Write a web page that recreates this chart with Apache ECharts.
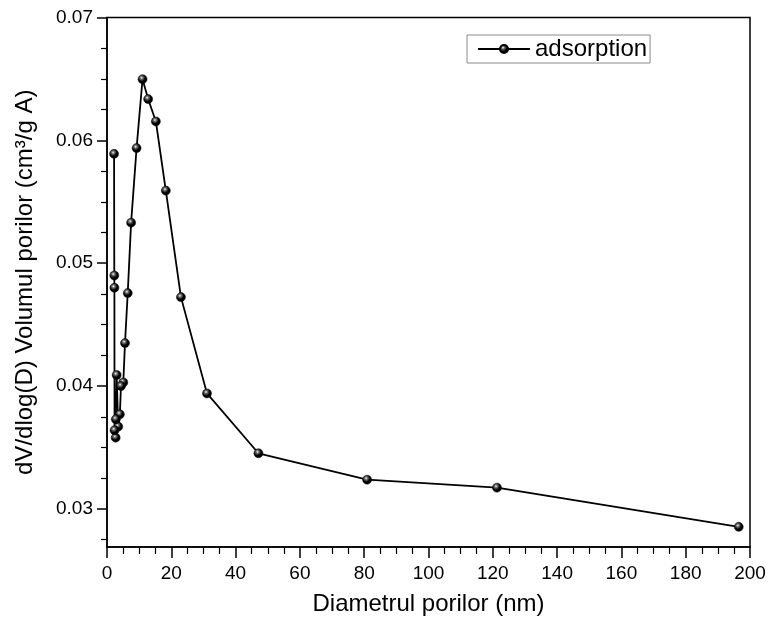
<!DOCTYPE html>
<html><head><meta charset="utf-8">
<script src="https://cdn.jsdelivr.net/npm/echarts@6/dist/echarts.min.js"></script>
<style>html,body{margin:0;padding:0;background:#fff}#c{width:771px;height:621px}</style>
</head><body><div id="c"></div>
<script>
// Data (pore diameter in nm, dV/dlog(D) in cm3/g A), ordered as in the source curve
const diameters = [196.5, 121.3, 80.9, 47.1, 31.1, 23.0, 18.3, 15.2, 12.8, 11.05, 9.2, 7.5, 6.45, 5.6, 5.07, 4.35, 4.0, 3.5, 3.0, 2.75, 2.7, 2.35, 2.3, 2.27, 2.2];
const volumes   = [0.02854, 0.03173, 0.03238, 0.03453, 0.0394, 0.04724, 0.05591, 0.06154, 0.06336, 0.06498, 0.05937, 0.0533, 0.04757, 0.0435, 0.0403, 0.0400, 0.0377, 0.0367, 0.0409, 0.0373, 0.0358, 0.0364, 0.0480, 0.0490, 0.0589];
const seriesName = 'adsorption';
const xTicks = [0, 20, 40, 60, 80, 100, 120, 140, 160, 180, 200];
const yMajorTicks = [0.03, 0.04, 0.05, 0.06, 0.07];
const yMinorTicks = [0.0275, 0.0325, 0.035, 0.0375, 0.0425, 0.045, 0.0475, 0.0525, 0.055, 0.0575, 0.0625, 0.065, 0.0675];
const xTitle = 'Diametrul porilor (nm)';
const yTitle = 'dV/dlog(D) Volumul porilor (cm³/g A)';

const FONT = "'Liberation Sans', Arial, sans-serif";
const chart = echarts.init(document.getElementById('c'), null, {renderer: 'canvas'});
const sphere = {
  type: 'radial', x: 0.4, y: 0.35, r: 0.7,
  colorStops: [{offset: 0, color: '#ffffff'}, {offset: 0.2, color: '#777'}, {offset: 0.55, color: '#000'}, {offset: 1, color: '#000'}]
};
const Y_MIN = 0.0269, Y_MAX = 0.07;
chart.setOption({
  backgroundColor: '#fff',
  animation: false,
  textStyle: {fontFamily: FONT},
  grid: {left: 107, right: 21, top: 17.5, bottom: 72, show: true, borderColor: '#000', borderWidth: 1.5, backgroundColor: 'transparent'},
  legend: {
    data: [seriesName], left: 467, top: 35, orient: 'horizontal',
    itemWidth: 52, itemHeight: 10, itemGap: 6,
    borderColor: '#8a8a8a', borderWidth: 1, padding: [2, 3, 2, 10],
    textStyle: {fontSize: 24, color: '#000', fontFamily: FONT}
  },
  xAxis: {
    type: 'value', min: 0, max: 200, interval: 20,
    name: xTitle, nameLocation: 'middle', nameGap: 45,
    nameTextStyle: {fontSize: 24, color: '#000', fontFamily: FONT},
    axisLine: {show: true, lineStyle: {color: '#000', width: 1.5}},
    axisTick: {show: true, inside: false, length: 11, lineStyle: {color: '#000', width: 1.5}},
    minorTick: {show: true, splitNumber: 4, length: 7, lineStyle: {color: '#000', width: 1.2}},
    axisLabel: {fontSize: 19, color: '#000', margin: 17, fontFamily: FONT, customValues: xTicks},
    splitLine: {show: false}
  },
  yAxis: [{
    type: 'value', min: Y_MIN, max: Y_MAX,
    name: yTitle, nameLocation: 'middle', nameGap: 70, nameRotate: 90,
    nameTextStyle: {fontSize: 24, color: '#000', fontFamily: FONT},
    axisLine: {show: true, lineStyle: {color: '#000', width: 1.5}},
    axisTick: {show: true, inside: false, length: 10, customValues: yMajorTicks, lineStyle: {color: '#000', width: 1.5}},
    axisLabel: {fontSize: 19, color: '#000', margin: 14, fontFamily: FONT, customValues: yMajorTicks, formatter: v => v.toFixed(2)},
    splitLine: {show: false}
  }, {
    type: 'value', min: Y_MIN, max: Y_MAX, position: 'left',
    axisLine: {show: false},
    axisTick: {show: true, inside: false, length: 6, customValues: yMinorTicks, lineStyle: {color: '#000', width: 1.2}},
    axisLabel: {show: false},
    splitLine: {show: false}
  }],
  series: [{
    name: seriesName, type: 'line', yAxisIndex: 0,
    data: diameters.map((d, i) => [d, volumes[i]]),
    symbol: 'circle', symbolSize: 9, showSymbol: true,
    lineStyle: {color: '#000', width: 1.8},
    itemStyle: {color: sphere, borderColor: '#000', borderWidth: 0.5},
    emphasis: {disabled: true}
  }]
});
</script></body></html>
